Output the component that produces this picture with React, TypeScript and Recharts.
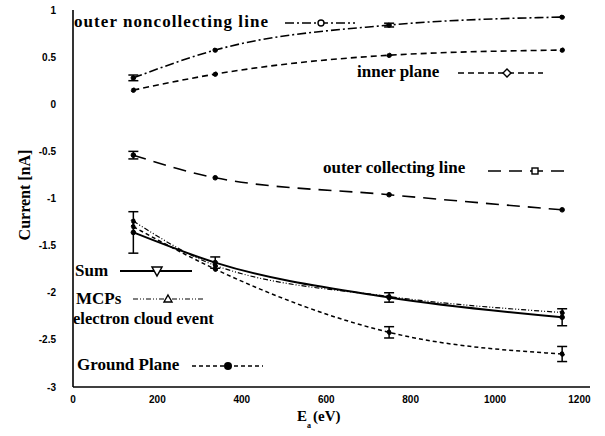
import React from 'react';
import { LineChart, Line, XAxis, YAxis, ErrorBar } from 'recharts';

const energies = [143, 337, 749, 1159];
const outerNoncollecting = [0.28, 0.575, 0.84, 0.925];
const innerPlane = [0.15, 0.32, 0.52, 0.575];
const outerCollecting = [-0.54, -0.78, -0.96, -1.12];
const sumValues = [-1.36, -1.68, -2.05, -2.26];
const mcps = [-1.24, -1.71, -2.04, -2.21];
const groundPlane = [-1.3, -1.75, -2.42, -2.65];

const outerNcErr = [0.03, null, 0.02, null];
const outerCollErr = [0.04, null, null, null];
const sumErr = [0.22, 0.06, 0.05, 0.09];
const groundErr = [null, null, 0.06, 0.08];

const xTicks = [0, 200, 400, 600, 800, 1000, 1200];
const yTicks = [-3, -2.5, -2, -1.5, -1, -0.5, 0, 0.5, 1];

const data = energies.map((e, i) => ({
  e,
  onc: outerNoncollecting[i],
  oncErr: outerNcErr[i],
  inner: innerPlane[i],
  oc: outerCollecting[i],
  ocErr: outerCollErr[i],
  sum: sumValues[i],
  sumErr: sumErr[i],
  mcp: mcps[i],
  gp: groundPlane[i],
  gpErr: groundErr[i],
}));

const DASH_ONC = '9 3 2 3';
const DASH_INNER = '6 4';
const DASH_OC = '13 8';
const DASH_MCP = '5 2 1 2 1 2';
const DASH_GP = '4 3';

const tickStyle = { fontFamily: '"Liberation Sans", Arial, sans-serif', fontWeight: 700, fontSize: 10, fill: '#000' };
const legendFont = { fontFamily: '"Liberation Serif", "Times New Roman", serif', fontWeight: 700, fontSize: 17, fill: '#000' };

const dot = { r: 2.3, fill: '#000', stroke: '#000', strokeWidth: 1 };
const frameLine = { stroke: '#000', strokeWidth: 1.6 };

export default function App() {
  return (
    <div style={{ position: 'absolute', left: 0, top: 0, width: 605, height: 436, background: '#fff' }}>
      <LineChart width={605} height={436} data={data} margin={{ top: 10, right: 15, bottom: 19, left: 13 }}>
        <XAxis
          dataKey="e"
          type="number"
          domain={[0, 1225]}
          ticks={xTicks}
          allowDataOverflow
          axisLine={frameLine}
          tickLine={false}
          tickSize={0}
          tickMargin={9}
          height={30}
          tick={tickStyle}
        />
        <XAxis
          xAxisId="top"
          orientation="top"
          dataKey="e"
          type="number"
          domain={[0, 1225]}
          allowDataOverflow
          axisLine={frameLine}
          tickLine={false}
          tick={false}
          height={0}
        />
        <YAxis
          type="number"
          domain={[-3, 1]}
          ticks={yTicks}
          allowDataOverflow
          axisLine={frameLine}
          tickLine={false}
          tickSize={0}
          tickMargin={17}
          width={60}
          tick={tickStyle}
          tickFormatter={(v: number) => String(v)}
        />
        <YAxis
          yAxisId="right"
          orientation="right"
          type="number"
          domain={[-3, 1]}
          allowDataOverflow
          axisLine={frameLine}
          tickLine={false}
          tick={false}
          width={0}
        />
        <Line type="monotone" dataKey="onc" stroke="#000" strokeWidth={1.6} strokeDasharray={DASH_ONC} dot={dot} isAnimationActive={false}>
          <ErrorBar dataKey="oncErr" width={5} stroke="#000" strokeWidth={1.5} direction="y" />
        </Line>
        <Line type="monotone" dataKey="inner" stroke="#000" strokeWidth={1.6} strokeDasharray={DASH_INNER} dot={dot} isAnimationActive={false} />
        <Line type="monotone" dataKey="oc" stroke="#000" strokeWidth={1.6} strokeDasharray={DASH_OC} dot={dot} isAnimationActive={false}>
          <ErrorBar dataKey="ocErr" width={5} stroke="#000" strokeWidth={1.5} direction="y" />
        </Line>
        <Line type="monotone" dataKey="gp" stroke="#000" strokeWidth={1.5} strokeDasharray={DASH_GP} dot={dot} isAnimationActive={false}>
          <ErrorBar dataKey="gpErr" width={5} stroke="#000" strokeWidth={1.5} direction="y" />
        </Line>
        <Line type="monotone" dataKey="mcp" stroke="#000" strokeWidth={1.2} strokeDasharray={DASH_MCP} dot={dot} isAnimationActive={false} />
        <Line type="monotone" dataKey="sum" stroke="#000" strokeWidth={2} dot={dot} isAnimationActive={false}>
          <ErrorBar dataKey="sumErr" width={5} stroke="#000" strokeWidth={1.5} direction="y" />
        </Line>
      </LineChart>
      <svg width={605} height={436} style={{ position: 'absolute', left: 0, top: 0, pointerEvents: 'none' }}>
        {/* axis titles */}
        <text x={24} y={195} transform="rotate(-90 24 195)" textAnchor="middle" dominantBaseline="central" style={{ ...legendFont, fontSize: 16 }}>
          Current [nA]
        </text>
        <text x={297} y={421} style={{ ...legendFont, fontSize: 15 }}>E</text>
        <text x={307} y={428} style={{ ...legendFont, fontSize: 8 }}>a</text>
        <text x={313} y={421} style={{ ...legendFont, fontSize: 15 }}>(eV)</text>

        {/* outer noncollecting line */}
        <text x={74} y={27} style={legendFont} textLength={194} lengthAdjust="spacing">outer noncollecting line</text>
        <line x1={285} y1={23} x2={355} y2={23} stroke="#000" strokeWidth={1.6} strokeDasharray={DASH_ONC} />
        <circle cx={321} cy={23} r={3} fill="#fff" stroke="#000" strokeWidth={1.4} />

        {/* inner plane */}
        <text x={357} y={77} style={legendFont}>inner plane</text>
        <line x1={458} y1={73} x2={543} y2={73} stroke="#000" strokeWidth={1.6} strokeDasharray={DASH_INNER} />
        <polygon points="507,69 511,73 507,77 503,73" fill="#fff" stroke="#000" strokeWidth={1.4} />

        {/* outer collecting line */}
        <text x={323} y={173} style={legendFont}>outer collecting line</text>
        <line x1={488} y1={171} x2={568} y2={171} stroke="#000" strokeWidth={1.6} strokeDasharray={DASH_OC} />
        <rect x={532} y={168} width={6} height={6} fill="#fff" stroke="#000" strokeWidth={1.4} />

        {/* Sum */}
        <text x={75} y={276} style={legendFont}>Sum</text>
        <line x1={120} y1={271} x2={192} y2={271} stroke="#000" strokeWidth={1.8} />
        <polygon points="152,267 162,267 157,276" fill="#fff" stroke="#000" strokeWidth={1.5} />

        {/* MCPs */}
        <text x={76} y={304} style={legendFont}>MCPs</text>
        <line x1={133} y1={299} x2={205} y2={299} stroke="#000" strokeWidth={1.2} strokeDasharray={DASH_MCP} />
        <polygon points="168,295 172,302 164,302" fill="#fff" stroke="#000" strokeWidth={1.4} />
        <text x={73} y={324} style={{ ...legendFont, fontSize: 16.5 }}>electron cloud event</text>

        {/* Ground Plane */}
        <text x={77} y={370} style={legendFont}>Ground Plane</text>
        <line x1={192} y1={366} x2={263} y2={366} stroke="#000" strokeWidth={1.5} strokeDasharray={DASH_GP} />
        <circle cx={228} cy={366} r={4} fill="#000" />
      </svg>
    </div>
  );
}
